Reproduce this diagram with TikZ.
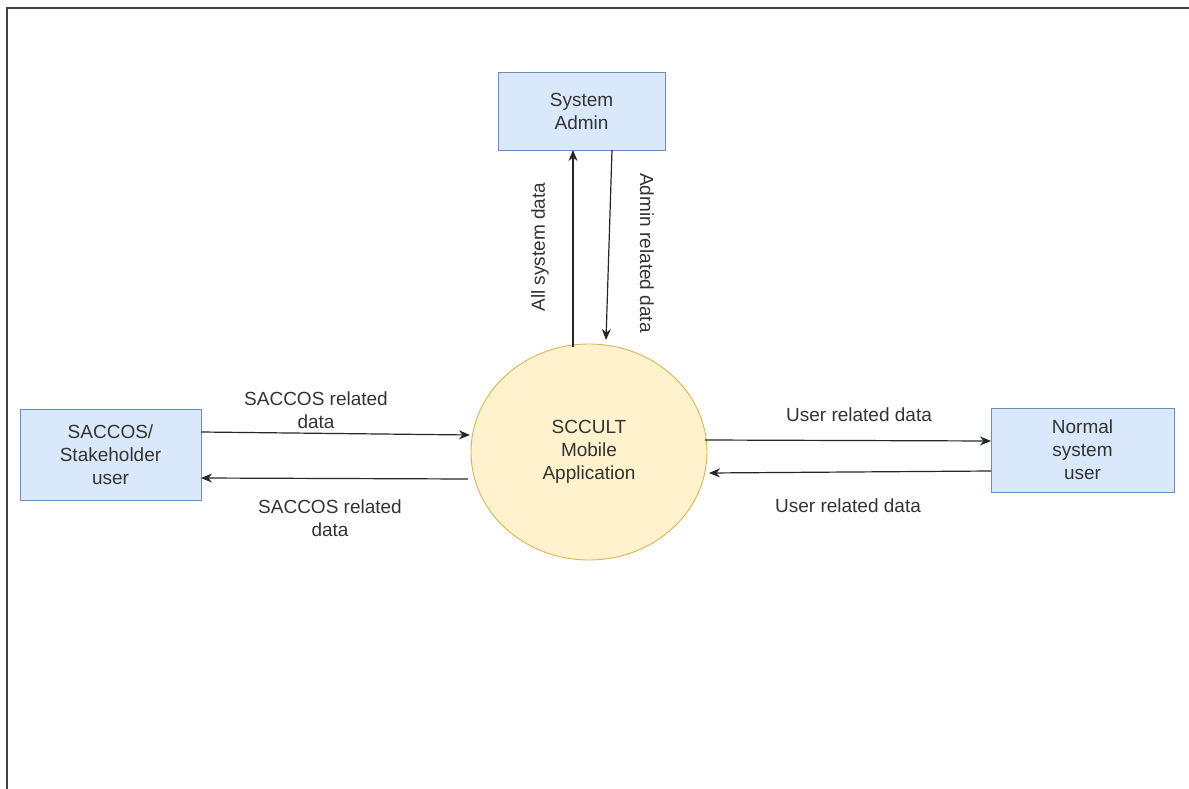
\documentclass[tikz,border=0pt]{standalone}
\usepackage{fontspec}
\setmainfont{Liberation Sans}
\usetikzlibrary{shapes.geometric,arrows.meta}
\definecolor{boxfill}{HTML}{DAE8FC}
\definecolor{boxdraw}{HTML}{6C8EBF}
\definecolor{circfill}{HTML}{FFF2CC}
\definecolor{circdraw}{HTML}{D6B656}
\definecolor{txt}{HTML}{333333}
\tikzset{
  entity/.style={draw=boxdraw,fill=boxfill,line width=0.9pt,inner sep=0pt,align=center,text=txt,font=\fontsize{19}{23}\selectfont},
  proc/.style={draw=circdraw,fill=circfill,line width=0.9pt,ellipse,inner sep=0pt,align=center,text=txt,font=\fontsize{19}{23}\selectfont},
  flow/.style={-{Stealth[length=11pt,width=9pt]},line width=1.2pt,black!85},
  lbl/.style={align=center,text=txt,font=\fontsize{19}{23}\selectfont,inner sep=0pt}
}
\begin{document}
\begin{tikzpicture}[x=1pt,y=-1pt]
\useasboundingbox (0,0) rectangle (1189,789);
\draw[line width=1.3pt,black!75] (7,789) -- (7,8) -- (1189,8);
\node[entity,minimum width=167pt,minimum height=78pt] (admin) at (581.5,111) {System\\Admin};
\node[entity,minimum width=181pt,minimum height=91pt] (sacco) at (110.5,454.5) {SACCOS/\\Stakeholder\\user};
\node[entity,minimum width=183pt,minimum height=84pt] (normal) at (1082.5,450) {Normal\\system\\user};
\node[proc,minimum width=236pt,minimum height=216pt] (app) at (589,452) {SCCULT\\Mobile\\Application};
\coordinate (a1) at (573,347);
\coordinate (a2) at (573,150);
\coordinate (b1) at (612,150);
\coordinate (b2) at (606,340);
\draw[flow] (a1) -- (a2);
\draw[flow] (b1) -- (b2);
\node[lbl,rotate=90] (lAll) at (540,247) {All system data};
\node[lbl,rotate=-90] (lAdm) at (647,253) {Admin related data};
\coordinate (s1) at (201,432);
\coordinate (s2) at (470,435);
\coordinate (s3) at (468,479);
\coordinate (s4) at (201,478);
\draw[flow] (s1) -- (s2);
\draw[flow] (s3) -- (s4);
\node[lbl] (lS1) at (316,410) {SACCOS related\\data};
\node[lbl] (lS2) at (330,518) {SACCOS related\\data};
\coordinate (u1) at (705,440);
\coordinate (u2) at (991,441);
\coordinate (u3) at (991,471);
\coordinate (u4) at (709,473);
\draw[flow] (u1) -- (u2);
\draw[flow] (u3) -- (u4);
\node[lbl] (lU1) at (859,415) {User related data};
\node[lbl] (lU2) at (848,506) {User related data};
\end{tikzpicture}
\end{document}
